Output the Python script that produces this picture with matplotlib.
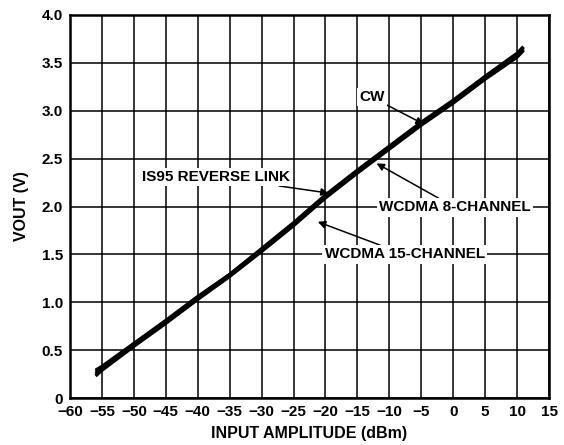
import matplotlib
matplotlib.use("Agg")
import matplotlib.pyplot as plt
import numpy as np

plt.rcParams['font.family'] = ['Liberation Sans', 'DejaVu Sans']
plt.rcParams['font.weight'] = 'bold'

# Data (input amplitude dBm vs VOUT)
x_dbm = [-56, -55, -50, -45, -40, -35, -30, -25, -20, -15, -10, -5, 0, 5, 10, 11]
cw = [0.27, 0.31, 0.56, 0.80, 1.05, 1.29, 1.55, 1.82, 2.11, 2.37, 2.62, 2.87, 3.10, 3.35, 3.58, 3.66]
is95 = [0.29, 0.33, 0.57, 0.81, 1.06, 1.29, 1.56, 1.83, 2.12, 2.38, 2.63, 2.88, 3.11, 3.36, 3.60, 3.67]
wcdma8 = [0.25, 0.30, 0.55, 0.79, 1.04, 1.28, 1.54, 1.81, 2.10, 2.36, 2.61, 2.86, 3.09, 3.34, 3.57, 3.64]
wcdma15 = [0.23, 0.29, 0.54, 0.78, 1.03, 1.27, 1.53, 1.80, 2.09, 2.35, 2.60, 2.85, 3.08, 3.33, 3.56, 3.63]

x_ticks = list(range(-60, 20, 5))
y_ticks = [0, 0.5, 1.0, 1.5, 2.0, 2.5, 3.0, 3.5, 4.0]
y_labels = ['0', '0.5', '1.0', '1.5', '2.0', '2.5', '3.0', '3.5', '4.0']

fig = plt.figure(figsize=(5.64, 4.45), dpi=100)
ax = fig.add_axes([70/564, 1 - 398/445, 479/564, 383/445])

for s in (cw, is95, wcdma8, wcdma15):
    ax.plot(x_dbm, s, color='black', lw=2.4, solid_capstyle='butt', zorder=3)

ax.set_xlim(-60, 15)
ax.set_ylim(0, 4.0)
ax.set_xticks(x_ticks)
ax.set_xticklabels([('\u2212' + str(-t)) if t < 0 else str(t) for t in x_ticks])
ax.set_yticks(y_ticks)
ax.set_yticklabels(y_labels)
ax.tick_params(axis='x', length=0, labelsize=11, pad=5)
ax.tick_params(axis='y', length=0, labelsize=11, pad=5)
for lab in ax.get_xticklabels() + ax.get_yticklabels():
    lab.set_fontweight('bold')
ax.grid(True, color='black', lw=1.1, zorder=1)
for sp in ax.spines.values():
    sp.set_linewidth(1.8)

ax.set_xlabel('INPUT AMPLITUDE (dBm)', fontsize=11.5, fontweight='bold', labelpad=5)
ax.set_ylabel('VOUT (V)', fontsize=11.5, fontweight='bold', labelpad=9)

bbox = dict(facecolor='white', edgecolor='none', pad=1.5)
arrow = dict(arrowstyle='-|>', color='black', lw=1.1, mutation_scale=11, shrinkA=0, shrinkB=0)

ax.annotate('CW', xy=(-4.6, 2.86), xytext=(-12.7, 3.14), fontsize=11, fontweight='bold',
            ha='center', va='center', bbox=bbox, arrowprops=arrow, zorder=5)
ax.annotate('IS95 REVERSE LINK', xy=(-19.5, 2.14), xytext=(-37.2, 2.31), fontsize=11,
            fontweight='bold', ha='center', va='center', bbox=bbox, arrowprops=arrow, zorder=5)
ax.annotate('WCDMA 8-CHANNEL', xy=(-12.0, 2.45), xytext=(0.3, 1.99), fontsize=11,
            fontweight='bold', ha='center', va='center', bbox=bbox, arrowprops=arrow, zorder=5)
ax.annotate('WCDMA 15-CHANNEL', xy=(-21.2, 1.84), xytext=(-7.6, 1.50), fontsize=11,
            fontweight='bold', ha='center', va='center', bbox=bbox, arrowprops=arrow, zorder=5)

fig.savefig('out.png', dpi=100)
